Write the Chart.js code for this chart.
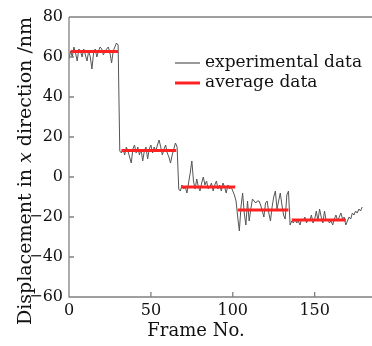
<!DOCTYPE html>
<html><head><meta charset="utf-8">
<script src="https://cdn.jsdelivr.net/npm/chart.js@4/dist/chart.umd.min.js"></script>
<style>html,body{margin:0;padding:0;background:#fff}#wrap{width:372px;height:346px}</style>
</head><body><div id="wrap"><canvas id="c"></canvas></div>
<script>
// experimental data, frame 0..179
const expValues = [
59,63,60,65,62,58,64,63,60,64,61,58,63,60,54,62,64,60,63,65,64,61,63,64,65,62,57,63,65,67,66,
13,12,14,11,15,13,10,7,14,16,12,15,11,14,8,13,15,9,14,16,12,15,13,16,18.5,15,11,14,16,12,10,7,11,14,17,15,
-6,-7,-4,-6,-5,-8,-3,2,8,-2,-6,-1,-5,-7,-3,0,-4,-2,-6,-5,-3,-7,-4,-2,-6,-4,-7,-3,-5,-8,-4,-6,-5,-7,-9,
-12,-20,-27,-15,-8,-18,-24,-12,-22,-16,-11,-12,-13,-12,-12,-14,-17,-20,-13,-12,-18,-22,-15,-10,-7,-16,-12,-8,-14,-19,-21,-9,-7,
-24,-22,-23,-21,-23,-22,-24,-21,-22,-20,-23,-21,-22,-19,-23,-21,-17,-22,-16,-20,-23,-17,-22,-21,-23,-22,-24,-21,-19,-22,-20,-18,-21,-20,-24,-22,-20,-21,-18,-19,-17,-18,-16,-17,-15
];
const frameNos = expValues.map((v, i) => i);
// average segments
const avgStart = [1, 32, 68.5, 103, 136];
const avgEnd = [30, 65.5, 101.5, 134, 169];
const avgValue = [62.7, 13.2, -5, -16.5, -21.5];
const xTicks = [0, 50, 100, 150];
const yTicks = [-60, -40, -20, 0, 20, 40, 60, 80];
const seriesNames = ['experimental data', 'average data'];

const expData = frameNos.map((f, i) => ({x: f, y: expValues[i]}));
const avgData = [];
avgValue.forEach((v, i) => {
  avgData.push({x: avgStart[i], y: v});
  avgData.push({x: avgEnd[i], y: v});
  avgData.push({x: avgEnd[i], y: null});
});

const FONT = "'DejaVu Serif', serif";
const AXC = '#808080';

const deco = {
  id: 'deco',
  afterDraw(chart) {
    const ctx = chart.ctx, a = chart.chartArea;
    const xs = chart.scales.x, ys = chart.scales.y;
    ctx.save();
    ctx.strokeStyle = AXC; ctx.lineWidth = 1.3;
    ctx.beginPath();
    ctx.moveTo(a.left, a.top); ctx.lineTo(a.left, a.bottom); ctx.lineTo(a.right, a.bottom);
    ctx.moveTo(a.left, a.top); ctx.lineTo(a.right, a.top);
    xTicks.forEach(t => { const p = xs.getPixelForValue(t);
      ctx.moveTo(p, a.bottom); ctx.lineTo(p, a.bottom - 5); });
    yTicks.forEach(t => { const p = ys.getPixelForValue(t);
      ctx.moveTo(a.left, p); ctx.lineTo(a.left + 5, p); });
    ctx.stroke();
    // legend
    ctx.lineWidth = 1.2; ctx.strokeStyle = '#555';
    ctx.beginPath(); ctx.moveTo(175, 63); ctx.lineTo(200, 63); ctx.stroke();
    ctx.lineWidth = 3; ctx.strokeStyle = '#ff2222';
    ctx.beginPath(); ctx.moveTo(175, 83); ctx.lineTo(200, 83); ctx.stroke();
    ctx.fillStyle = '#111'; ctx.font = '17px ' + FONT; ctx.textBaseline = 'middle'; ctx.textAlign = 'left';
    ctx.fillText(seriesNames[0], 205, 63);
    ctx.fillText(seriesNames[1], 205, 83);
    // x title
    ctx.font = '18px ' + FONT; ctx.textAlign = 'center';
    ctx.fillText('Frame No.', 196, 331);
    // y title (mixed italic)
    ctx.translate(26, 171); ctx.rotate(-Math.PI / 2);
    const parts = [['Displacement in ', '19px ' + FONT], ['x', 'italic 19px ' + FONT], [' direction /nm', '19px ' + FONT]];
    let total = 0;
    parts.forEach(p => { ctx.font = p[1]; total += ctx.measureText(p[0]).width; });
    let x0 = -total / 2; ctx.textAlign = 'left';
    parts.forEach(p => { ctx.font = p[1]; ctx.fillText(p[0], x0, 0); x0 += ctx.measureText(p[0]).width; });
    ctx.restore();
  }
};

new Chart(document.getElementById('c'), {
  type: 'scatter',
  data: { datasets: [
    { label: seriesNames[0], data: expData, showLine: true, borderColor: '#555', borderWidth: 1, pointRadius: 0, order: 2 },
    { label: seriesNames[1], data: avgData, showLine: true, spanGaps: false, borderColor: '#ff2222', borderWidth: 3, pointRadius: 0, order: 1 }
  ]},
  options: {
    responsive: true, maintainAspectRatio: false, animation: false,
    layout: { padding: { top: 17, right: 0, left: 0, bottom: 0 } },
    plugins: { legend: { display: false }, tooltip: { enabled: false } },
    scales: {
      x: { type: 'linear', min: 0, max: 185,
        afterBuildTicks: s => { s.ticks = xTicks.map(v => ({value: v})); },
        afterFit: s => { s.height = 49; },
        grid: { display: false, drawTicks: false }, border: { display: false },
        ticks: { padding: 4, color: '#111', font: { family: FONT, size: 16 }, maxRotation: 0 } },
      y: { min: -60, max: 80,
        afterBuildTicks: s => { s.ticks = yTicks.map(v => ({value: v})); },
        afterFit: s => { s.width = 69; },
        grid: { display: false, drawTicks: false }, border: { display: false },
        ticks: { padding: 6, color: '#111', font: { family: FONT, size: 16 },
          callback: v => String(v).replace('-', '\u2212') } }
    }
  },
  plugins: [deco]
});
</script></body></html>
